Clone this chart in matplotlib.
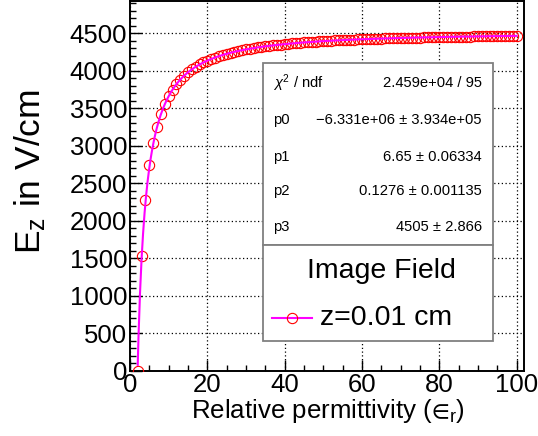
import numpy as np
import matplotlib
matplotlib.use("Agg")
import matplotlib.pyplot as plt
from matplotlib.lines import Line2D
from matplotlib.patches import Rectangle
from matplotlib.ticker import MultipleLocator

plt.rcParams['font.family'] = ['Liberation Sans', 'DejaVu Sans']
plt.rcParams['mathtext.fontset'] = 'custom'
plt.rcParams['mathtext.rm'] = 'Liberation Sans'
plt.rcParams['mathtext.it'] = 'Liberation Sans:italic'
plt.rcParams['mathtext.bf'] = 'Liberation Sans:bold'
plt.rcParams['mathtext.fallback'] = 'stixsans'

# ---- data ----
permittivity = list(range(2, 101))
ez_values = [0, 1530, 2280, 2740, 3040, 3250, 3419, 3553, 3660, 3747,
             3820, 3881, 3933, 3979, 4018, 4052, 4083, 4110, 4135, 4156,
             4176, 4194, 4210, 4225, 4239, 4252, 4263, 4274, 4284, 4293,
             4302, 4310, 4318, 4325, 4332, 4338, 4344, 4349, 4355, 4360,
             4364, 4369, 4373, 4377, 4381, 4384, 4388, 4391, 4394, 4397,
             4400, 4403, 4406, 4408, 4411, 4413, 4415, 4417, 4420, 4422,
             4423, 4425, 4427, 4429, 4430, 4432, 4434, 4435, 4437, 4438,
             4439, 4441, 4442, 4443, 4444, 4446, 4447, 4448, 4449, 4450,
             4451, 4452, 4453, 4454, 4455, 4455, 4456, 4457, 4458, 4459,
             4459, 4460, 4461, 4462, 4462, 4463, 4464, 4464, 4465]

# fit parameters (from the stats box): E = p3 + p0*exp(-p1*x^p2)
fit_params = [-6.331e6, 6.65, 0.1276, 4505.0]
stats_labels = [r"$\chi^{2}$ / ndf", "p0", "p1", "p2", "p3"]
stats_values = ["2.459e+04 / 95", "\u22126.331e+06 \u00b1 3.934e+05",
                "6.65 \u00b1 0.06334", "0.1276 \u00b1 0.001135", "4505 \u00b1 2.866"]
legend_title = "Image Field"
legend_label = "z=0.01 cm"

W, H = 538, 436
fig = plt.figure(figsize=(W / 100, H / 100), dpi=100)
L, R, T, B = 130, 524.3, 1, 370.5
ax = fig.add_axes([L / W, 1 - B / H, (R - L) / W, (B - T) / H])

def fx(px):
    return px / W

def fy(py):
    return 1 - py / H

x = np.array(permittivity, dtype=float)
ax.plot(x, ez_values, linestyle='none', marker='o', markersize=7.4,
        markerfacecolor='none', markeredgecolor='#ff0000', markeredgewidth=0.8,
        zorder=3)
xf = np.linspace(permittivity[0], permittivity[-1], 500)
p0, p1, p2, p3 = fit_params
ax.plot(xf, p3 + p0 * np.exp(-p1 * xf ** p2), color='#ff00ff', lw=1.5, zorder=4)

ax.set_xlim(0, 102)
ax.set_ylim(0, 4930)
ax.xaxis.set_major_locator(MultipleLocator(20))
ax.xaxis.set_minor_locator(MultipleLocator(5))
ax.yaxis.set_major_locator(MultipleLocator(500))
ax.yaxis.set_minor_locator(MultipleLocator(100))
ax.tick_params(which='both', direction='in', top=False, right=False, width=1.0)
ax.tick_params(axis='y', which='major', length=8.6, labelsize=18.5, pad=2)
ax.tick_params(axis='y', which='minor', length=4.3)
ax.tick_params(axis='x', which='major', length=7.9, labelsize=18.5, pad=2)
ax.tick_params(axis='x', which='minor', length=4.0)
for s in ax.spines.values():
    s.set_linewidth(1.4)
ax.grid(True, which='major', linestyle=(0, (1, 2)), color='black', lw=0.9)

ax.set_xlabel("Relative permittivity ($\\mathrm{\u2208}_{\\rm r}$)", fontsize=18.6)
ax.xaxis.set_label_coords((328 - L) / (R - L), (B - 411) / (B - T))
ax.xaxis.label.set_va('center')
ax.set_ylabel(r"E$_{\rm z}$ in V/cm", fontsize=25.5)
ax.yaxis.set_label_coords((30 - L) / (R - L), (B - 172) / (B - T))
ax.yaxis.label.set_va('center')

# stats box
box_l, box_r = 263, 493
fig.patches.append(Rectangle((fx(box_l), fy(245)), fx(box_r) - fx(box_l), fy(63) - fy(245),
                             transform=fig.transFigure, facecolor='white',
                             edgecolor='#808080', lw=1.3, zorder=5))
ys = [83, 120, 157, 191, 227]
for lab, val, yy in zip(stats_labels, stats_values, ys):
    fig.text(fx(273), fy(yy), lab, ha='left', va='center', fontsize=10.6, zorder=6)
    fig.text(fx(482), fy(yy), val, ha='right', va='center', fontsize=10.6, zorder=6)

# legend box
fig.patches.append(Rectangle((fx(box_l), fy(341)), fx(box_r) - fx(box_l), fy(245) - fy(341),
                             transform=fig.transFigure, facecolor='white',
                             edgecolor='#808080', lw=1.3, zorder=5))
fig.text(fx(381.7), fy(270.7), legend_title, ha='center', va='center', fontsize=20.5, zorder=6)
fig.text(fx(320), fy(318), legend_label, ha='left', va='center', fontsize=20.5, zorder=6)
fig.lines.append(Line2D([fx(271.7), fx(312)], [fy(318), fy(318)], transform=fig.transFigure,
                        color='#ff00ff', lw=1.5, zorder=6))
fig.lines.append(Line2D([fx(292)], [fy(318)], transform=fig.transFigure, linestyle='none',
                        marker='o', markersize=7.4, markerfacecolor='none',
                        markeredgecolor='#ff0000', markeredgewidth=0.8, zorder=7))

fig.savefig("out.png", dpi=100)
